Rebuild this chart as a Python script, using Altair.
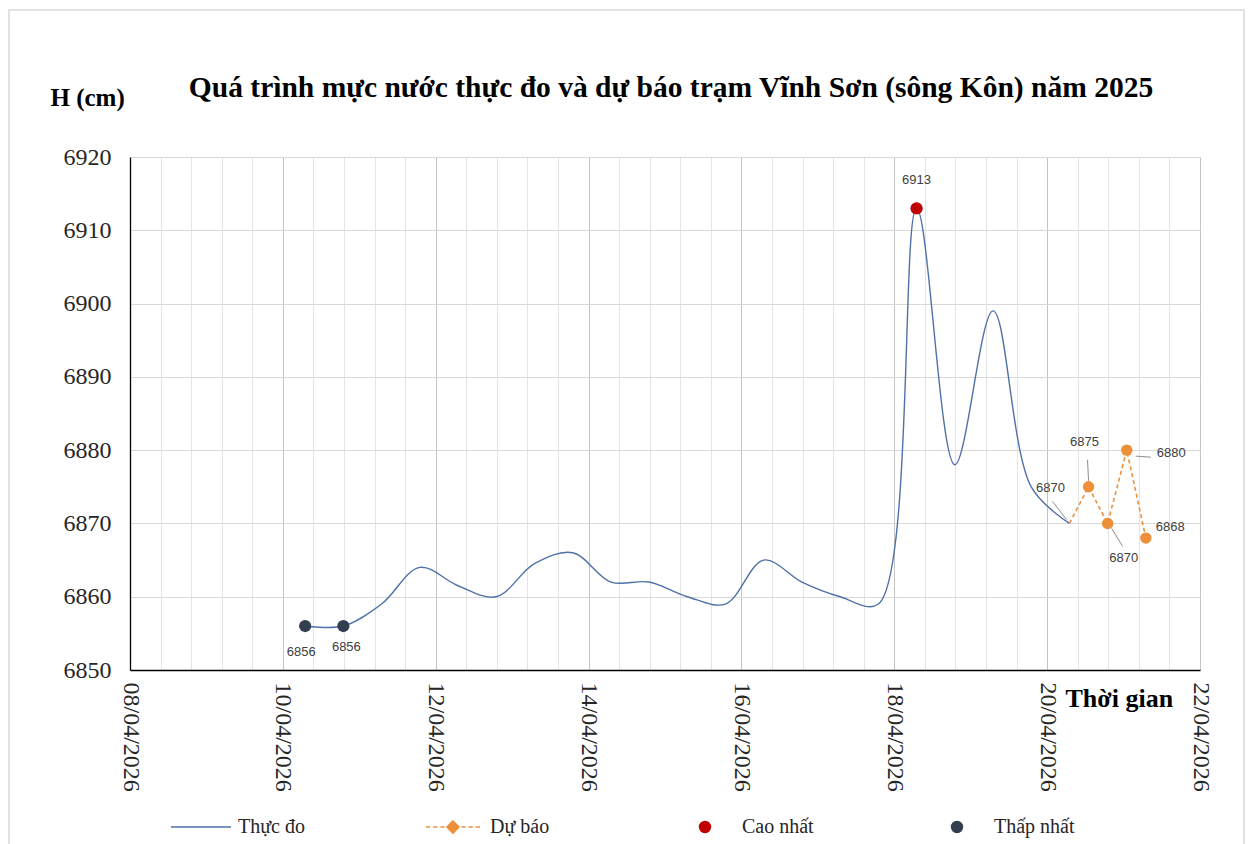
import altair as alt
import pandas as pd

# ---------------- data ----------------
obs_time = [
    "2026-04-10 07:00", "2026-04-10 19:00", "2026-04-11 07:00", "2026-04-11 19:00",
    "2026-04-12 07:00", "2026-04-12 19:00", "2026-04-13 07:00", "2026-04-13 19:00",
    "2026-04-14 07:00", "2026-04-14 19:00", "2026-04-15 07:00", "2026-04-15 19:00",
    "2026-04-16 07:00", "2026-04-16 19:00", "2026-04-17 07:00", "2026-04-17 19:00",
    "2026-04-18 07:00", "2026-04-18 19:00", "2026-04-19 07:00", "2026-04-19 19:00",
    "2026-04-20 07:00",
]
obs_level = [6856, 6856, 6859, 6864, 6861.5, 6860, 6864.5, 6866, 6862, 6862,
             6860, 6859, 6865, 6862, 6860, 6859, 6913, 6878, 6899, 6875, 6870]

fc_time = ["2026-04-20 07:00", "2026-04-20 13:00", "2026-04-20 19:00",
           "2026-04-21 01:00", "2026-04-21 07:00"]
fc_level = [6870, 6875, 6870, 6880, 6868]

max_time = ["2026-04-18 07:00"]
max_level = [6913]
min_time = ["2026-04-10 07:00", "2026-04-10 19:00"]
min_level = [6856, 6856]

legend_series = ["Thực đo", "Dự báo", "Cao nhất", "Thấp nhất"]
legend_colors = ["#4F71A8", "#EE8F3A", "#C00000", "#333F50"]

y_ticks = [6850, 6860, 6870, 6880, 6890, 6900, 6910, 6920]
axis_start = "2026-04-08 00:00"
axis_days = 14

TITLE = "Quá trình mực nước thực đo và dự báo trạm Vĩnh Sơn (sông Kôn) năm 2025"

# ---------------- tables ----------------
t0 = pd.Timestamp(axis_start)


def days(ts):
    return [(pd.Timestamp(t) - t0) / pd.Timedelta(days=1) for t in ts]


obs = pd.DataFrame({"day": days(obs_time), "level": obs_level})
fc = pd.DataFrame({"day": days(fc_time), "level": fc_level,
                   "label": [str(v) for v in fc_level]})
mx = pd.DataFrame({"day": days(max_time), "level": max_level,
                   "label": [str(v) for v in max_level]})
mn = pd.DataFrame({"day": days(min_time), "level": min_level,
                   "label": [str(v) for v in min_level]})

grid_vals = [round(i * 0.4, 1) for i in range(36)]

SERIF = "Liberation Serif"
SANS = "Liberation Sans"
MAJOR = "abs(datum.value/2 - round(datum.value/2)) < 0.01"

x_scale = alt.Scale(domain=[0, axis_days], nice=False, zero=False)
y_scale = alt.Scale(domain=[y_ticks[0], y_ticks[-1]], nice=False, zero=False)

x_axis = alt.Axis(
    values=grid_vals, tickCount=100,
    labelExpr=(MAJOR + " ? timeFormat(datetime(2026, 3, 8 + round(datum.value)), '%d/%m/%Y') : ''"),
    labelAngle=90,
    labelFont=SERIF, labelFontSize=24, labelColor="#262626",
    labelOverlap=False, labelPadding=12, labelFlush=False,
    ticks=False,
    domainColor="#000000", domainWidth=1.3,
    gridColor={"condition": {"test": MAJOR, "value": "#c4c4c4"}, "value": "#e4e4e4"},
    gridWidth=1,
    title="Thời gian", titleFont=SERIF, titleFontSize=26, titleFontWeight="bold",
    titleColor="#000000", titleAngle=0, titleAlign="left", titleBaseline="middle",
    titleX=935, titleY=28,
)
y_axis = alt.Axis(
    values=y_ticks, format="d",
    labelFont=SERIF, labelFontSize=24, labelColor="#262626", labelPadding=19,
    ticks=False,
    domainColor="#000000", domainWidth=1.3,
    gridColor="#d9d9d9", gridWidth=1,
    title="H (cm)", titleFont=SERIF, titleFontSize=25, titleFontWeight="bold",
    titleColor="#000000", titleAngle=0, titleAlign="left", titleBaseline="middle",
    titleX=-80, titleY=-60,
)

X = alt.X("day:Q", scale=x_scale, axis=x_axis)
Y = alt.Y("level:Q", scale=y_scale, axis=y_axis)
Xn = alt.X("day:Q", scale=x_scale)
Yn = alt.Y("level:Q", scale=y_scale)

obs_line = alt.Chart(obs).mark_line(interpolate="catmull-rom", color="#4F71A8",
                                    strokeWidth=1.4).encode(x=X, y=Y)

fc_line = alt.Chart(fc).mark_line(color="#EE8F3A", strokeWidth=1.6,
                                  strokeDash=[4, 3]).encode(x=Xn, y=Yn)

fc_pts = alt.Chart(fc).transform_filter("datum.day > 12.3").mark_circle(
    color="#EE8F3A", size=130, opacity=1).encode(x=Xn, y=Yn)

max_pt = alt.Chart(mx).mark_circle(color="#C00000", size=150, opacity=1).encode(x=Xn, y=Yn)
min_pt = alt.Chart(mn).mark_circle(color="#333F50", size=150, opacity=1).encode(x=Xn, y=Yn)


def label(df, dx, dy, align="center"):
    return alt.Chart(df).mark_text(font=SANS, fontSize=13, color="#404040",
                                   dx=dx, dy=dy, align=align, baseline="middle").encode(
        x=Xn, y=Yn, text="label:N")


def leader(df, x1, y1, x2, y2):
    return alt.Chart(df).mark_rule(color="#8c8c8c", strokeWidth=1,
                                   xOffset=x1, yOffset=y1, x2Offset=x2, y2Offset=y2).encode(
        x=Xn, y=Yn, x2="day:Q", y2="level:Q")


labels = [
    label(mx, 0, -28),
    label(mn.iloc[[0]], -4, 26),
    label(mn.iloc[[1]], 3, 21),
    label(fc.iloc[[0]], -19, -35),
    label(fc.iloc[[1]], -4, -45),
    label(fc.iloc[[2]], 16, 35),
    label(fc.iloc[[3]], 30, 3, "left"),
    label(fc.iloc[[4]], 10, -11, "left"),
    leader(fc.iloc[[0]], -17, -22, -3, -4),
    leader(fc.iloc[[1]], -1, -27, 0, -6),
    leader(fc.iloc[[2]], 4, 5, 15, 23),
    leader(fc.iloc[[3]], 9, 6, 24, 7),
]

# legend built from the fill / stroke / shape scales of an empty layer
line_path = "M-1,0H1"
dash_path = ("M-0.9,0H-0.76M-0.66,0H-0.52M-0.42,0H-0.28M0.28,0H0.42M0.52,0H0.66M0.76,0H0.9"
             "M0,-0.2L0.2,0L0,0.2L-0.2,0Z")
dot_path = "M-0.18,0A0.18,0.18,0,1,0,0.18,0A0.18,0.18,0,1,0,-0.18,0Z"
legend_shapes = [line_path, dash_path, dot_path, dot_path]

leg = alt.Legend(
    title=None, orient="none", legendX=40, legendY=639, direction="horizontal",
    columns=4, columnPadding=103, gridAlign="all",
    labelFont=SERIF, labelFontSize=20, labelColor="#262626", labelOffset=6,
    symbolStrokeWidth=1.6, symbolSize=3600,
)
legend_layer = alt.Chart(pd.DataFrame({"series": legend_series})).transform_filter(
    "false").mark_point(filled=True, opacity=1).encode(
    fill=alt.Fill("series:N", scale=alt.Scale(domain=legend_series, range=legend_colors),
                  legend=leg),
    stroke=alt.Stroke("series:N", scale=alt.Scale(domain=legend_series, range=legend_colors),
                      legend=leg),
    shape=alt.Shape("series:N", scale=alt.Scale(domain=legend_series, range=legend_shapes),
                    legend=leg),
)

frame = alt.Chart(pd.DataFrame({"k": [0]})).mark_rect(
    fill=None, stroke="#d9d9d9", strokeWidth=1.5, clip=False).encode(
    x=alt.value(-121), x2=alt.value(1114), y=alt.value(-147), y2=alt.value(700))

chart = alt.layer(
    frame, obs_line, fc_line, fc_pts, max_pt, min_pt, *labels, legend_layer
).properties(
    width=1070, height=513,
    title=alt.TitleParams(TITLE, font=SERIF, fontSize=29.5, fontWeight="bold", color="#000000",
                          anchor="middle", frame="group", dx=6, offset=0, dy=117,
                          baseline="alphabetic"),
    padding={"left": 122, "top": 149, "right": 45, "bottom": 180},
    autosize=alt.AutoSizeParams(type="none"),
).configure_view(stroke="#000000", strokeWidth=1.3).configure(background="#ffffff")

chart.save("out.html", embed_options={"renderer": "svg", "actions": False})
